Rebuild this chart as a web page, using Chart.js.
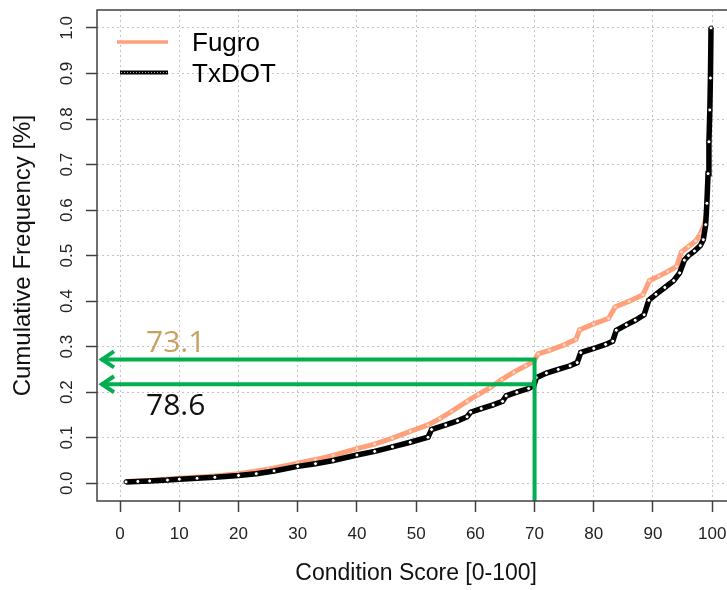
<!DOCTYPE html>
<html>
<head>
<meta charset="utf-8">
<script src="https://cdn.jsdelivr.net/npm/chart.js@4.4.1/dist/chart.umd.min.js"></script>
<style>
  html, body { margin: 0; padding: 0; background: #fff; overflow: hidden; }
  #wrap { width: 727px; height: 590px; }
</style>
</head>
<body>
<div id="wrap"><canvas id="cdfChart"></canvas></div>
<script>
// axis ticks
const xTicks = [0, 10, 20, 30, 40, 50, 60, 70, 80, 90, 100];
const yTicks = [0, 0.1, 0.2, 0.3, 0.4, 0.5, 0.6, 0.7, 0.8, 0.9, 1.0];
const yTickLabels = ["0.0", "0.1", "0.2", "0.3", "0.4", "0.5", "0.6", "0.7", "0.8", "0.9", "1.0"];

// TxDOT cumulative curve
const txdotScore = [1, 3, 5, 8, 10, 13, 16, 20, 23, 26, 30, 33, 36, 40, 43, 46, 49, 52, 52.6, 55,
  57, 58.6, 59.2, 61, 63, 64.6, 65.2, 67, 69, 69.9, 70.3, 72, 74, 76, 77.2, 77.8, 80, 82, 83.2, 83.8,
  85.5, 87, 88.5, 89.3, 90.5, 92, 93.5, 94.5, 95.3, 96, 97, 98, 98.5, 98.9, 99.1, 99.3, 99.45, 99.6, 99.7, 99.8];
const txdotFreq = [0.003, 0.004, 0.005, 0.007, 0.009, 0.011, 0.013, 0.017, 0.021, 0.027, 0.037, 0.043, 0.050, 0.062, 0.070, 0.080, 0.090, 0.101, 0.118, 0.128,
  0.137, 0.146, 0.156, 0.164, 0.172, 0.180, 0.192, 0.200, 0.208, 0.215, 0.232, 0.242, 0.250, 0.258, 0.265, 0.287, 0.296, 0.305, 0.312, 0.336,
  0.348, 0.358, 0.370, 0.402, 0.415, 0.430, 0.445, 0.462, 0.490, 0.500, 0.510, 0.522, 0.535, 0.568, 0.615, 0.68, 0.75, 0.82, 0.89, 1.0];

// Fugro cumulative curve
const fugroScore = [1, 5, 10, 15, 20, 25, 30, 33, 36, 40, 43, 46, 49, 52, 54, 56, 58.6, 60.5, 62.5, 64.5,
  66.5, 68.5, 69.9, 70.6, 72.5, 75, 77, 77.6, 80, 82.5, 83.6, 86, 88.3, 89.4, 91, 92.5, 94, 94.8, 96, 97.2,
  98, 98.6, 99.1];
const fugroFreq = [0.004, 0.006, 0.011, 0.015, 0.021, 0.031, 0.044, 0.052, 0.061, 0.076, 0.086, 0.099, 0.114, 0.128, 0.142, 0.158, 0.180, 0.195, 0.210, 0.228,
  0.244, 0.258, 0.268, 0.284, 0.292, 0.304, 0.316, 0.337, 0.350, 0.362, 0.387, 0.400, 0.414, 0.445, 0.455, 0.465, 0.476, 0.508, 0.520, 0.532,
  0.548, 0.565, 0.593];

// read-off at score 70
const readScore = 70;
const readFreqFugro = 0.272;
const readFreqTxdot = 0.2175;
const readLabelFugro = "73.1";
const readLabelTxdot = "78.6";

const seriesNames = ["Fugro", "TxDOT"];

const SALMON = "#ffa07a";
const GREEN = "#00b050";
const FRAME = "#404040";
const SANS = '"Liberation Sans", Arial, sans-serif';

const toPoints = (xs, ys) => xs.map((x, i) => ({ x: x, y: ys[i] }));

// R-style frame, rotated y labels, titles, legend and read-off arrows
const rStylePlugin = {
  id: "rStyle",
  afterDraw(chart) {
    const ctx = chart.ctx;
    const area = chart.chartArea;
    const xs = chart.scales.x;
    const ys = chart.scales.y;
    ctx.save();

    // read-off arrows
    const px70 = xs.getPixelForValue(readScore);
    const pyF = ys.getPixelForValue(readFreqFugro);
    const pyT = ys.getPixelForValue(readFreqTxdot);
    const tipX = area.left + 4;
    ctx.strokeStyle = GREEN;
    ctx.lineWidth = 4;
    ctx.lineCap = "butt";
    ctx.beginPath();
    ctx.moveTo(px70, pyF - 2);
    ctx.lineTo(px70, area.bottom);
    ctx.moveTo(px70, pyF);
    ctx.lineTo(tipX, pyF);
    ctx.moveTo(px70, pyT);
    ctx.lineTo(tipX, pyT);
    ctx.stroke();
    ctx.lineJoin = "miter";
    [pyF, pyT].forEach(py => {
      ctx.beginPath();
      ctx.moveTo(tipX + 13, py - 8);
      ctx.lineTo(tipX + 1, py);
      ctx.lineTo(tipX + 13, py + 8);
      ctx.stroke();
    });

    ctx.font = '30px "Open Sans", sans-serif';
    ctx.textAlign = "left";
    ctx.textBaseline = "alphabetic";
    ctx.fillStyle = "#c8a060";
    ctx.fillText(readLabelFugro, 146, 351.5);
    ctx.fillStyle = "#111";
    ctx.fillText(readLabelTxdot, 146, 415);

    // frame (right side runs past the canvas edge)
    ctx.strokeStyle = FRAME;
    ctx.lineWidth = 1.5;
    ctx.strokeRect(area.left, area.top, area.right - area.left + 12, area.bottom - area.top);

    // tick labels
    ctx.fillStyle = "#222";
    ctx.font = "17px " + SANS;
    ctx.textAlign = "center";
    xTicks.forEach(v => {
      ctx.fillText(String(v), xs.getPixelForValue(v), 538.5);
    });
    yTicks.forEach((v, i) => {
      ctx.save();
      ctx.translate(72, ys.getPixelForValue(v));
      ctx.rotate(-Math.PI / 2);
      ctx.fillText(yTickLabels[i], 0, 0);
      ctx.restore();
    });

    // axis titles
    ctx.fillStyle = "#111";
    ctx.font = "23px " + SANS;
    ctx.fillText("Condition Score [0-100]", xs.getPixelForValue(50), 580);
    ctx.font = "24px " + SANS;
    ctx.save();
    ctx.translate(30, ys.getPixelForValue(0.5));
    ctx.rotate(-Math.PI / 2);
    ctx.fillText("Cumulative Frequency [%]", 0, 0);
    ctx.restore();

    // legend
    ctx.lineCap = "butt";
    ctx.strokeStyle = SALMON;
    ctx.lineWidth = 3.5;
    ctx.beginPath();
    ctx.moveTo(117, 42);
    ctx.lineTo(168, 42);
    ctx.stroke();
    ctx.strokeStyle = "#000";
    ctx.lineWidth = 4;
    ctx.beginPath();
    ctx.moveTo(120, 72.5);
    ctx.lineTo(168, 72.5);
    ctx.stroke();
    ctx.strokeStyle = "#aaa";
    ctx.lineWidth = 1;
    ctx.setLineDash([1, 2]);
    ctx.beginPath();
    ctx.moveTo(121, 72.5);
    ctx.lineTo(167, 72.5);
    ctx.stroke();
    ctx.setLineDash([]);
    ctx.fillStyle = "#000";
    ctx.font = "26px " + SANS;
    ctx.textAlign = "left";
    ctx.fillText(seriesNames[0], 192, 51);
    ctx.fillText(seriesNames[1], 192, 82);

    ctx.restore();
  }
};

new Chart(document.getElementById("cdfChart"), {
  type: "line",
  data: {
    datasets: [
      {
        label: seriesNames[1],
        data: toPoints(txdotScore, txdotFreq),
        borderColor: "#000",
        borderWidth: 5.5,
        pointRadius: 2,
        pointBorderWidth: 1,
        pointBorderColor: "#000",
        pointBackgroundColor: "#fff",
        tension: 0,
        order: 1,
      },
      {
        label: seriesNames[0],
        data: toPoints(fugroScore, fugroFreq),
        borderColor: SALMON,
        borderWidth: 5,
        pointRadius: 2,
        pointBorderWidth: 1,
        pointBorderColor: SALMON,
        pointBackgroundColor: "#ffd6c4",
        tension: 0,
        order: 2,
      },
    ],
  },
  options: {
    responsive: true,
    maintainAspectRatio: false,
    animation: false,
    devicePixelRatio: 1,
    layout: { autoPadding: false, padding: { top: 10, left: 0, right: 0, bottom: 0 } },
    scales: {
      x: {
        type: "linear",
        min: -3.9,
        max: 102.5,
        afterFit: s => { s.height = 89; },
        afterBuildTicks: s => { s.ticks = xTicks.map(v => ({ value: v })); },
        ticks: { display: false },
        border: { display: false, dash: [2, 3] },
        grid: {
          color: "#c4c4c4",
          lineWidth: 1,
          tickLength: 11,
          tickColor: FRAME,
          tickWidth: 1.5,
          tickBorderDash: [],
        },
      },
      y: {
        type: "linear",
        min: -0.039,
        max: 1.0395,
        afterFit: s => { s.width = 97; },
        afterBuildTicks: s => { s.ticks = yTicks.map(v => ({ value: v })); },
        ticks: { display: false },
        border: { display: false, dash: [2, 3] },
        grid: {
          color: "#c4c4c4",
          lineWidth: 1,
          tickLength: 11,
          tickColor: FRAME,
          tickWidth: 1.5,
          tickBorderDash: [],
        },
      },
    },
    plugins: {
      legend: { display: false },
      tooltip: { enabled: false },
    },
  },
  plugins: [rStylePlugin],
});
</script>
</body>
</html>
